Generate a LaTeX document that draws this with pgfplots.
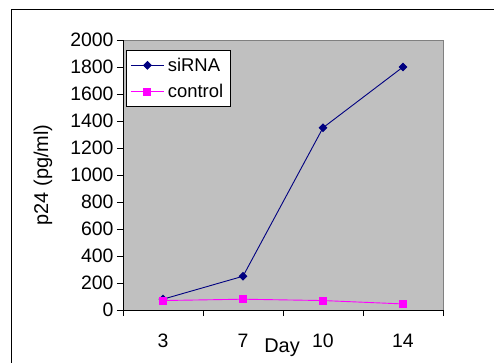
\documentclass[border=0pt]{standalone}
\usepackage{pgfplots}
\pgfplotsset{compat=1.18}
\usepackage{fontspec}
\setmainfont{Liberation Sans}
\definecolor{plotgray}{HTML}{C0C0C0}
\definecolor{navyc}{HTML}{000080}
\definecolor{magc}{HTML}{FF00FF}
\begin{document}
\begin{tikzpicture}
\path[use as bounding box] (-123bp,-53bp) rectangle (371bp,310bp);
\draw[line width=1bp] (-111bp,-53bp) -- (-111bp,300.5bp) -- (371bp,300.5bp);
\begin{axis}[
  scale only axis, width=320bp, height=270bp,
  xmin=-0.5, xmax=3.5, ymin=0, ymax=2000,
  axis lines*=left,
  axis line style={-, black, line width=0.9bp},
  axis background/.style={fill=plotgray, draw=gray},
  tick align=outside,
  ytick={0,200,...,2000},
  xtick={-0.5,0.5,1.5,2.5,3.5}, xticklabels={},
  extra x ticks={0,1,2,3}, extra x tick labels={3,7,10,14},
  extra x tick style={major tick length=0pt, xticklabel style={anchor=center, yshift=-31bp}},
  major tick length=6bp,
  every tick/.style={black, line width=0.9bp},
  /pgf/number format/assume math mode=true,
  ticklabel style={font=\fontsize{19.5}{22}\selectfont},
  yticklabel style={/pgf/number format/1000 sep={}},
  ylabel={p24 (pg/ml)}, xlabel={Day},
  every axis y label/.style={at={(axis description cs:-0.25,0.5)}, rotate=90, anchor=center, font=\fontsize{20}{22}\selectfont},
  every axis x label/.style={at={(axis description cs:0.497,-0.141)}, anchor=center, font=\fontsize{20}{22}\selectfont},
  legend style={at={(axis description cs:0.0094,0.963)}, anchor=north west,
    draw=black, fill=white, line width=0.9bp,
    font=\fontsize{18.5}{21}\selectfont, row sep=7.5bp, inner xsep=4bp, inner ysep=5.5bp,
    nodes={inner xsep=3.5bp}},
  legend cell align=left,
  legend image code/.code={\draw[mark repeat=2,mark phase=2] plot coordinates {(0bp,0bp) (16.5bp,0bp) (33bp,0bp)};},
]
\addplot[color=navyc, line width=0.9bp, mark=square*, mark size=2.7bp, mark options={solid, rotate=45}]
  coordinates {(0,80) (1,250) (2,1350) (3,1800)};
\addlegendentry{siRNA}
\addplot[color=magc, line width=0.9bp, mark=square*, mark size=3.5bp, mark options={solid}]
  coordinates {(0,70) (1,80) (2,70) (3,45)};
\addlegendentry{control}
\end{axis}
\end{tikzpicture}
\end{document}
